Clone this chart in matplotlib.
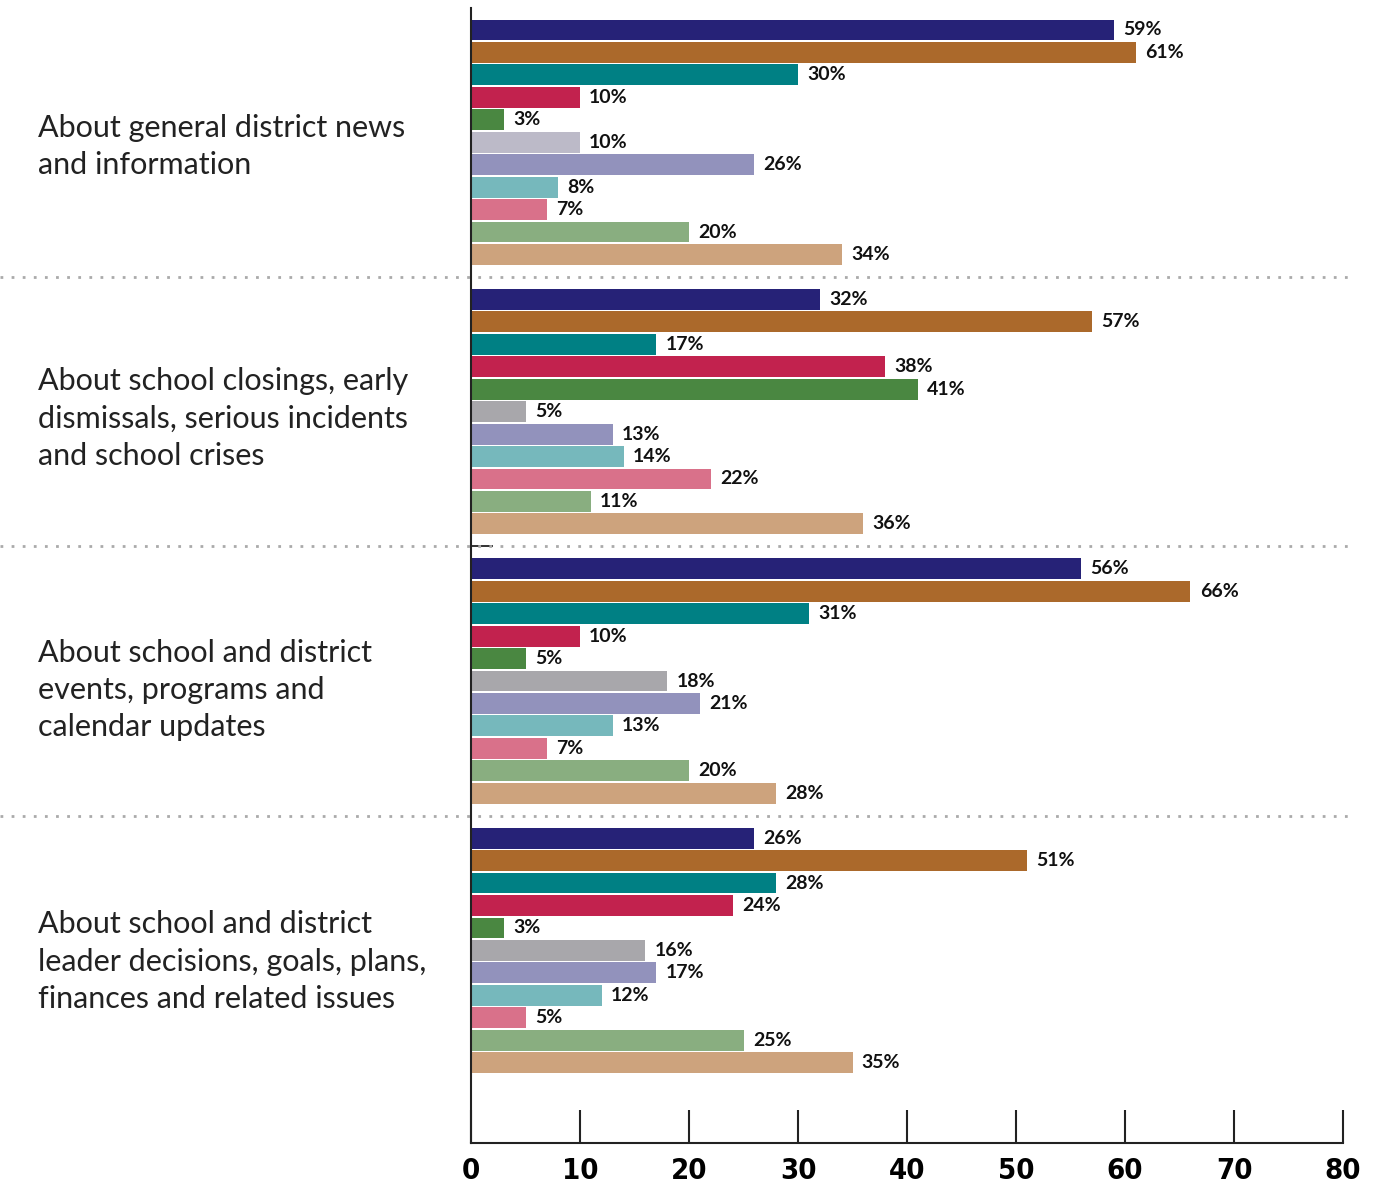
import numpy as np
import matplotlib
matplotlib.use("Agg")
import matplotlib.pyplot as plt
from matplotlib.transforms import blended_transform_factory

# Daten
groups = [
    "About general district news\nand information",
    "About school closings, early\ndismissals, serious incidents\nand school crises",
    "About school and district\nevents, programs and\ncalendar updates",
    "About school and district\nleader decisions, goals, plans,\nfinances and related issues",
]
values = [
    [59, 61, 30, 10, 3, 10, 26, 8, 7, 20, 34],
    [32, 57, 17, 38, 41, 5, 13, 14, 22, 11, 36],
    [56, 66, 31, 10, 5, 18, 21, 13, 7, 20, 28],
    [26, 51, 28, 24, 3, 16, 17, 12, 5, 25, 35],
]
colors = ["#262277", "#ab692b", "#008084", "#c2224e", "#4a8741", "#a8a7ab",
          "#9292bc", "#76b8bc", "#d9718a", "#89ae80", "#cda37d"]
gray_first = "#bcbac8"   # im ersten Block heller
xticks = [0, 10, 20, 30, 40, 50, 60, 70, 80]

slot = 12  # Plaetze pro Gruppe (11 Balken + Luecke)

fig = plt.figure(figsize=(13.74, 11.84), dpi=100)
ax = fig.add_axes([471/1374, 41/1184, 872/1374, 1135/1184])

for g, vals in enumerate(values):
    for i, v in enumerate(vals):
        y = g*slot + i
        c = colors[i]
        if g == 0 and i == 5:
            c = gray_first
        ax.barh(y, v, height=0.93, color=c, edgecolor="none")
        ax.text(v + 0.85, y, "%d%%" % v, va="center", ha="left",
                fontsize=14, fontweight="bold", family="Lato", color="#111111")

ax.set_xlim(0, 80)
ax.set_ylim(49.58, -0.98)

###################################### Style #################################
for s in ["top", "right"]:
    ax.spines[s].set_visible(False)
ax.spines["left"].set_linewidth(1.5)
ax.spines["bottom"].set_linewidth(1.5)
ax.spines["left"].set_color("#222222")
ax.spines["bottom"].set_color("#222222")

ax.set_xticks(xticks)
ax.set_xticklabels([str(t) for t in xticks], fontsize=21, fontweight="bold",
                   family="DejaVu Sans", fontstretch="condensed")
ax.tick_params("x", direction="in", length=24, width=1.5, color="#222222", pad=10)
ax.set_yticks([slot*2 - 1])
ax.set_yticklabels([""])
ax.tick_params("y", direction="in", length=16, width=1.3, color="#222222")

# gepunktete Trennlinien
trans = blended_transform_factory(fig.transFigure, ax.transData)
for g in range(1, len(values)):
    ysep = g*slot - 1
    ax.plot([0, 1352/1374], [ysep, ysep], transform=trans, clip_on=False,
            color="#aaaaaa", linewidth=2, linestyle=(0, (1, 3)))

# Gruppenbeschriftung
for g, name in enumerate(groups):
    yc = g*slot + 5.2 + 0.1*g
    ax.text(38/1374, yc, name, transform=trans, ha="left", va="center",
            fontsize=22, family="Lato", color="#222222", linespacing=1.4)

fig.savefig("out.png", dpi=100)
